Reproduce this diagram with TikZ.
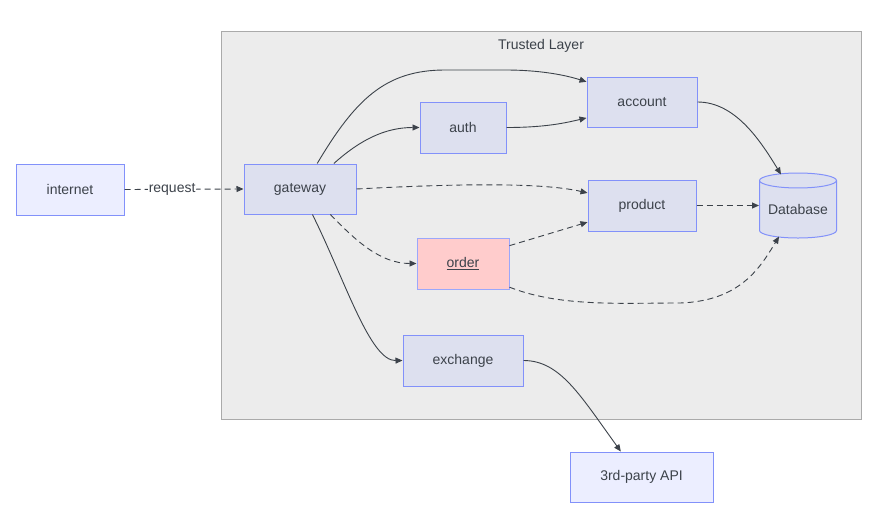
\documentclass[tikz,border=0pt]{standalone}
\usepackage{fontspec}
\setmainfont{Liberation Sans}
\usepackage{tikz}
\usetikzlibrary{calc,arrows.meta,positioning,shapes.geometric}
\definecolor{boxline}{RGB}{130,145,250}
\definecolor{outerfill}{RGB}{236,238,255}
\definecolor{innerfill}{RGB}{221,224,239}
\definecolor{layerfill}{RGB}{236,236,236}
\definecolor{layerline}{RGB}{170,170,170}
\definecolor{ink}{RGB}{60,66,74}
\definecolor{orderfill}{RGB}{255,204,204}
\tikzset{
  svc/.style={draw=boxline,fill=innerfill,line width=1pt,text=ink,inner sep=0pt},
  ext/.style={svc,fill=outerfill},
  layer/.style={draw=layerline,fill=layerfill,line width=0.8pt},
  link/.style={draw=ink,line width=0.9pt,-{Triangle[length=7pt,width=6pt]}},
  dlink/.style={link,dash pattern=on 6pt off 4pt},
  every node/.style={font=\fontsize{14}{16}\selectfont}
}
\tikzstyle{arrow} = [link]

\begin{document}
\begin{tikzpicture}[x=1pt,y=-1pt]
  \useasboundingbox (0,0) rectangle (893,522);
  \node[layer,minimum width=640,minimum height=388] (trusted) at (541,225) {};
  \node[text=ink,below=5pt of trusted.north] (title) {Trusted Layer};

  \node[ext,minimum width=108,minimum height=51] (internet) at (70,189.5) {internet};
  \node[svc,minimum width=112,minimum height=50] (gateway) at (300,189) {gateway};
  \node[svc,minimum width=86,minimum height=51] (auth) at (463,127.5) {auth};
  \node[svc,minimum width=110,minimum height=50] (account) at (642,102) {account};
  \node[svc,minimum width=108,minimum height=51] (product) at (642,205.5) {product};
  \node[svc,fill=orderfill,draw=boxline!80,minimum width=92,minimum height=51] (order) at (463,263.5) {\underline{order}};
  \node[svc,minimum width=120,minimum height=51] (exchange) at (463,360.5) {exchange};
  \node[ext,minimum width=143,minimum height=50] (api) at (641.5,477) {3rd-party API};
  \node[svc,cylinder,shape border rotate=90,aspect=0.25,minimum width=77,minimum height=65] (db) at (798,209.5) {Database};

  % request from outside
  \draw[dlink] (internet.east) -- node[fill=white,text=ink,inner sep=1pt,pos=0.4] (req) {request} (gateway.west);

  \draw[arrow] (gateway.56) .. controls (355,100) and (385,70) .. (445,70)
    -- (505,70) .. controls (540,70) and (565,75) .. (account.160);
  \draw[arrow] (gateway.37) .. controls (360,140) and (385,127.5) .. (auth.west);
  \draw[arrow] (auth.east) .. controls (545,127.5) and (565,123) .. (account.196);
  \draw[arrow] (account.east) .. controls (735,102) and (760,140) .. ($(db.north)+(-17,2)$);
  \draw[arrow] (gateway.-64) .. controls (345,280) and (370,361) .. (exchange.west);
  \draw[arrow] (exchange.east) .. controls (560,360.5) and (580,395) .. (api.129);

  \draw[dlink] (gateway.east) .. controls (450,184) and (540,182) .. (product.167);
  \draw[dlink] (gateway.-40) .. controls (355,240) and (380,263.5) .. (order.west);
  \draw[dlink] (order.21) -- (product.197);
  \draw[dlink] (product.east) -- (db.west |- product.east);
  \draw[dlink] (order.-27) .. controls (560,307) and (620,303) .. (680,303)
    .. controls (740,301) and (760,268) .. ($(db.south)+(-19,-2)$);
\end{tikzpicture}
\end{document}
